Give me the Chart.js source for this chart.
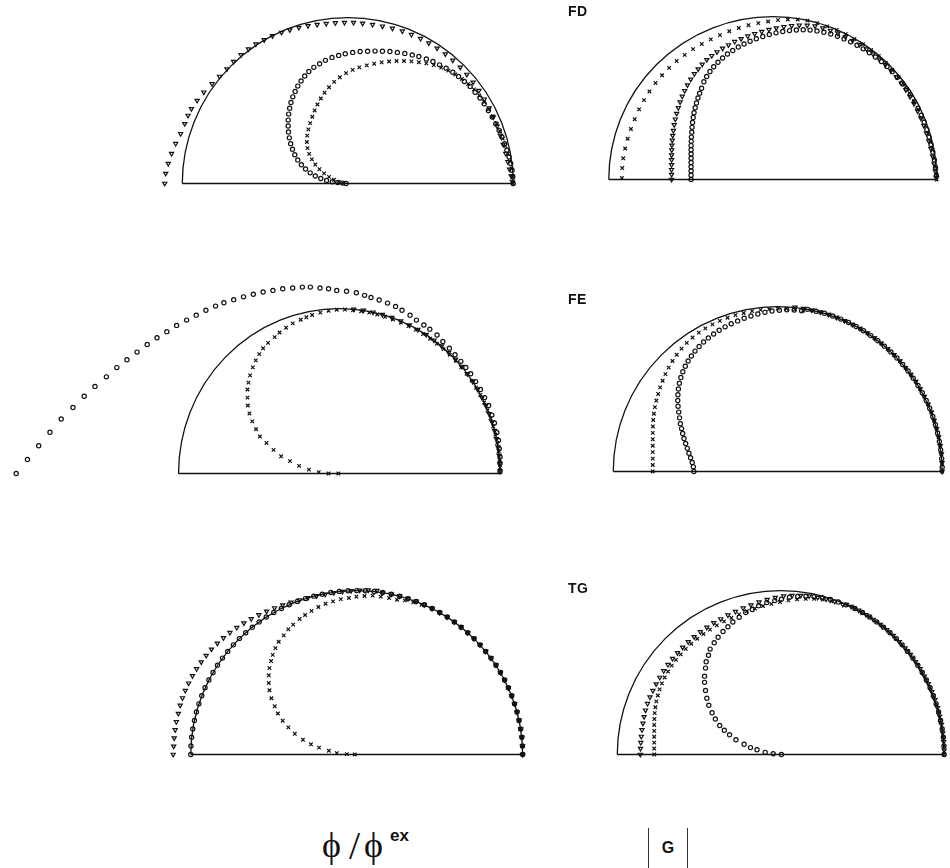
<!DOCTYPE html>
<html>
<head>
<meta charset="utf-8">
<script src="https://cdn.jsdelivr.net/npm/chart.js@4/dist/chart.umd.min.js"></script>
<style>
  html, body { margin: 0; padding: 0; background: #fff; }
  body { width: 950px; height: 868px; position: relative; overflow: hidden; font-family: "Liberation Sans", Arial, sans-serif; }
  canvas.panel { position: absolute; }
  .tag { position: absolute; font-weight: bold; font-size: 14px; color: #111; letter-spacing: 0.5px; }
  .phi { position: absolute; font-family: "Liberation Serif", serif; font-size: 36px; color: #111; }
  .ex { position: absolute; font-weight: bold; font-size: 17px; color: #111; }
  .gbox { position: absolute; border-left: 1px solid #333; border-right: 1px solid #333; text-align: center; font-weight: bold; font-size: 16px; color: #111; }
</style>
</head>
<body>
<script>
// Normalised coordinates: the unit half circle has its centre at (0,0) and radius 1.

// ---- FD ----
const fdL_tri = [[-1.106,0.0],[-1.1,0.06],[-1.085,0.12],[-1.065,0.18],[-1.04,0.24],[-1.01,0.3],[-0.985,0.36],[-0.965,0.41],[-0.945,0.45],[-0.91,0.5],[-0.87,0.55],[-0.82,0.6],[-0.775,0.645],[-0.73,0.69],[-0.69,0.735],[-0.645,0.775],[-0.6,0.81],[-0.555,0.84],[-0.505,0.866],[-0.455,0.89],[-0.4,0.91],[-0.35,0.925],[-0.295,0.94],[-0.24,0.95],[-0.185,0.958],[-0.13,0.964],[-0.075,0.968],[-0.02,0.97],[0.035,0.97],[0.09,0.965],[0.15,0.958],[0.21,0.948],[0.27,0.935],[0.33,0.918],[0.385,0.897],[0.44,0.873],[0.49,0.846],[0.54,0.815],[0.59,0.78],[0.635,0.742],[0.68,0.7],[0.72,0.657],[0.758,0.61],[0.793,0.56],[0.825,0.508],[0.855,0.455],[0.88,0.4],[0.903,0.345],[0.922,0.29],[0.94,0.235],[0.955,0.18],[0.968,0.13],[0.978,0.085],[0.988,0.045],[0.995,0.012]];
const fdL_circ = [[1.0,0.0],[0.998,0.04],[0.993,0.08],[0.985,0.12],[0.975,0.16],[0.962,0.2],[0.948,0.24],[0.932,0.28],[0.915,0.32],[0.895,0.36],[0.873,0.4],[0.85,0.44],[0.825,0.48],[0.8,0.515],[0.77,0.55],[0.74,0.585],[0.705,0.615],[0.67,0.645],[0.635,0.67],[0.595,0.695],[0.555,0.715],[0.515,0.735],[0.475,0.75],[0.43,0.765],[0.39,0.775],[0.345,0.784],[0.3,0.79],[0.255,0.795],[0.21,0.797],[0.165,0.798],[0.12,0.797],[0.075,0.795],[0.03,0.79],[-0.015,0.782],[-0.055,0.772],[-0.095,0.76],[-0.135,0.742],[-0.17,0.722],[-0.205,0.7],[-0.235,0.675],[-0.26,0.648],[-0.282,0.618],[-0.302,0.587],[-0.318,0.555],[-0.332,0.522],[-0.343,0.488],[-0.351,0.453],[-0.357,0.418],[-0.36,0.382],[-0.36,0.346],[-0.358,0.31],[-0.353,0.275],[-0.345,0.24],[-0.334,0.206],[-0.32,0.173],[-0.302,0.142],[-0.28,0.113],[-0.255,0.087],[-0.227,0.064],[-0.196,0.045],[-0.163,0.03],[-0.128,0.018],[-0.093,0.01],[-0.06,0.005],[-0.03,0.002],[-0.01,0.0]];
const fdL_x = [[1.0,0.0],[0.997,0.045],[0.99,0.09],[0.98,0.135],[0.968,0.18],[0.953,0.225],[0.937,0.27],[0.92,0.315],[0.9,0.36],[0.877,0.405],[0.852,0.448],[0.825,0.49],[0.795,0.53],[0.763,0.567],[0.728,0.6],[0.69,0.63],[0.65,0.657],[0.608,0.68],[0.565,0.698],[0.52,0.713],[0.475,0.724],[0.43,0.731],[0.385,0.736],[0.34,0.738],[0.295,0.738],[0.25,0.735],[0.205,0.73],[0.16,0.722],[0.115,0.712],[0.07,0.7],[0.03,0.685],[-0.01,0.665],[-0.048,0.64],[-0.082,0.612],[-0.113,0.58],[-0.14,0.547],[-0.163,0.512],[-0.183,0.476],[-0.2,0.44],[-0.214,0.402],[-0.227,0.364],[-0.238,0.326],[-0.245,0.288],[-0.247,0.25],[-0.243,0.213],[-0.233,0.178],[-0.217,0.145],[-0.196,0.114],[-0.171,0.086],[-0.143,0.061],[-0.113,0.04],[-0.083,0.022],[-0.055,0.01],[-0.03,0.003]];

const fdR_x = [[-0.92,0.01],[-0.918,0.07],[-0.912,0.13],[-0.9,0.19],[-0.885,0.25],[-0.865,0.31],[-0.842,0.37],[-0.815,0.43],[-0.785,0.487],[-0.752,0.54],[-0.715,0.592],[-0.675,0.64],[-0.632,0.685],[-0.586,0.727],[-0.537,0.765],[-0.486,0.8],[-0.433,0.832],[-0.378,0.86],[-0.322,0.886],[-0.265,0.91],[-0.207,0.93],[-0.148,0.947],[-0.088,0.96],[-0.028,0.97],[0.032,0.978],[0.092,0.982],[0.152,0.982],[0.212,0.975],[0.272,0.96],[0.332,0.94],[0.39,0.918],[0.445,0.892],[0.498,0.862],[0.55,0.83],[0.6,0.795],[0.647,0.757],[0.69,0.716],[0.73,0.672],[0.768,0.627],[0.802,0.58],[0.833,0.53],[0.862,0.48],[0.888,0.43],[0.91,0.38],[0.93,0.33],[0.947,0.28],[0.962,0.23],[0.975,0.18],[0.985,0.13],[0.993,0.08],[0.998,0.035],[1.0,0.0]];
const fdR_tri = [[-0.617,0.0],[-0.617,0.03],[-0.617,0.06],[-0.617,0.09],[-0.617,0.12],[-0.617,0.15],[-0.616,0.18],[-0.615,0.21],[-0.613,0.24],[-0.61,0.27],[-0.606,0.3],[-0.601,0.335],[-0.594,0.37],[-0.586,0.405],[-0.576,0.44],[-0.565,0.475],[-0.552,0.51],[-0.537,0.545],[-0.52,0.58],[-0.5,0.615],[-0.478,0.648],[-0.455,0.678],[-0.43,0.707],[-0.402,0.735],[-0.372,0.76],[-0.34,0.783],[-0.306,0.805],[-0.27,0.826],[-0.232,0.846],[-0.193,0.864],[-0.152,0.88],[-0.11,0.895],[-0.067,0.908],[-0.023,0.92],[0.022,0.93],[0.068,0.938],[0.115,0.944],[0.162,0.947],[0.21,0.946],[0.258,0.942],[0.305,0.93],[0.352,0.915],[0.398,0.897],[0.443,0.876],[0.487,0.853],[0.53,0.828],[0.572,0.8],[0.612,0.77],[0.65,0.738],[0.687,0.704],[0.721,0.668],[0.754,0.63],[0.784,0.59],[0.812,0.55],[0.838,0.508],[0.862,0.465],[0.884,0.42],[0.904,0.375],[0.922,0.33],[0.938,0.283],[0.952,0.236],[0.964,0.19],[0.975,0.142],[0.984,0.095],[0.992,0.05],[0.998,0.01]];
const fdR_circ = [[-0.498,0.0],[-0.498,0.026],[-0.498,0.052],[-0.498,0.078],[-0.498,0.104],[-0.498,0.13],[-0.498,0.156],[-0.498,0.182],[-0.498,0.208],[-0.497,0.234],[-0.496,0.26],[-0.494,0.29],[-0.492,0.32],[-0.489,0.35],[-0.485,0.38],[-0.48,0.41],[-0.473,0.44],[-0.465,0.47],[-0.456,0.5],[-0.446,0.53],[-0.434,0.56],[-0.42,0.6],[-0.403,0.632],[-0.383,0.663],[-0.36,0.692],[-0.334,0.72],[-0.306,0.746],[-0.276,0.77],[-0.244,0.792],[-0.21,0.813],[-0.175,0.832],[-0.138,0.849],[-0.1,0.864],[-0.061,0.878],[-0.021,0.89],[0.02,0.9],[0.061,0.908],[0.102,0.914],[0.144,0.918],[0.186,0.919],[0.228,0.917],[0.27,0.912],[0.312,0.904],[0.354,0.893],[0.395,0.879],[0.435,0.863],[0.475,0.845],[0.514,0.824],[0.552,0.802],[0.59,0.778],[0.627,0.752],[0.663,0.724],[0.697,0.694],[0.729,0.662],[0.76,0.628],[0.789,0.593],[0.816,0.556],[0.841,0.518],[0.864,0.478],[0.886,0.437],[0.906,0.395],[0.924,0.351],[0.94,0.306],[0.954,0.26],[0.966,0.214],[0.977,0.167],[0.986,0.12],[0.993,0.072],[0.998,0.025]];

// ---- FE ----
const feL_circ = [[-2.01,0.0],[-1.94,0.085],[-1.87,0.168],[-1.8,0.25],[-1.73,0.33],[-1.657,0.4],[-1.587,0.468],[-1.52,0.528],[-1.449,0.586],[-1.384,0.642],[-1.321,0.69],[-1.258,0.736],[-1.195,0.782],[-1.134,0.823],[-1.073,0.86],[-1.012,0.898],[-0.95,0.93],[-0.89,0.96],[-0.83,0.99],[-0.77,1.015],[-0.718,1.035],[-0.657,1.054],[-0.596,1.071],[-0.535,1.087],[-0.474,1.1],[-0.413,1.11],[-0.352,1.12],[-0.29,1.125],[-0.23,1.13],[-0.18,1.13],[-0.12,1.125],[-0.067,1.12],[-0.016,1.11],[0.045,1.105],[0.106,1.096],[0.157,1.08],[0.197,1.067],[0.248,1.052],[0.3,1.033],[0.35,1.013],[0.39,0.99],[0.44,0.96],[0.48,0.93],[0.526,0.9],[0.563,0.875],[0.608,0.84],[0.644,0.8],[0.685,0.76],[0.72,0.72],[0.756,0.68],[0.787,0.643],[0.817,0.605],[0.848,0.557],[0.878,0.509],[0.904,0.46],[0.929,0.412],[0.949,0.354],[0.965,0.306],[0.98,0.249],[0.99,0.2],[0.995,0.15],[1.0,0.1],[1.0,0.06],[1.0,0.01]];
const feL_x = [[-0.006,0.0],[-0.067,0.0],[-0.128,0.008],[-0.189,0.023],[-0.25,0.046],[-0.307,0.075],[-0.362,0.104],[-0.409,0.143],[-0.453,0.185],[-0.494,0.224],[-0.518,0.268],[-0.541,0.316],[-0.559,0.364],[-0.569,0.412],[-0.571,0.46],[-0.571,0.509],[-0.565,0.551],[-0.555,0.595],[-0.538,0.643],[-0.52,0.686],[-0.498,0.724],[-0.474,0.759],[-0.443,0.792],[-0.402,0.827],[-0.372,0.855],[-0.331,0.884],[-0.29,0.91],[-0.24,0.932],[-0.205,0.947],[-0.169,0.961],[-0.118,0.975],[-0.067,0.987],[-0.016,0.993],[0.035,0.994],[0.085,0.99],[0.136,0.984],[0.186,0.975],[0.236,0.964],[0.285,0.95],[0.334,0.934],[0.382,0.915],[0.43,0.894],[0.476,0.871],[0.521,0.845],[0.565,0.817],[0.607,0.787],[0.648,0.754],[0.687,0.719],[0.724,0.683],[0.759,0.645],[0.792,0.605],[0.823,0.563],[0.851,0.52],[0.877,0.476],[0.901,0.43],[0.922,0.383],[0.941,0.335],[0.957,0.286],[0.971,0.236],[0.982,0.186],[0.991,0.136],[0.997,0.085],[1.0,0.035]];
const feL_tri = [[0.09,0.996],[0.15,0.989],[0.21,0.978],[0.268,0.963],[0.326,0.945],[0.382,0.924],[0.436,0.9],[0.489,0.872],[0.54,0.842],[0.589,0.808],[0.636,0.772],[0.68,0.733],[0.722,0.692],[0.761,0.649],[0.797,0.604],[0.83,0.557],[0.86,0.51],[0.887,0.461],[0.911,0.412],[0.932,0.362],[0.95,0.311],[0.965,0.26],[0.977,0.21],[0.987,0.16],[0.994,0.11],[0.998,0.06],[1.0,0.015]];

const feR_x = [[-0.76,0.0],[-0.76,0.039],[-0.76,0.078],[-0.76,0.117],[-0.76,0.156],[-0.76,0.195],[-0.76,0.234],[-0.759,0.273],[-0.757,0.312],[-0.753,0.35],[-0.747,0.39],[-0.738,0.43],[-0.727,0.47],[-0.715,0.51],[-0.7,0.55],[-0.683,0.59],[-0.663,0.63],[-0.64,0.67],[-0.614,0.708],[-0.585,0.745],[-0.553,0.78],[-0.518,0.812],[-0.48,0.842],[-0.44,0.868],[-0.397,0.892],[-0.352,0.913],[-0.305,0.932],[-0.257,0.948],[-0.207,0.961],[-0.156,0.972],[-0.104,0.98],[-0.052,0.985],[0.0,0.988],[0.052,0.987],[0.104,0.983],[0.155,0.976],[0.208,0.978],[0.259,0.966],[0.309,0.951],[0.358,0.934],[0.407,0.914],[0.454,0.891],[0.5,0.866],[0.545,0.839],[0.588,0.809],[0.629,0.777],[0.669,0.743],[0.707,0.707],[0.743,0.669],[0.777,0.629],[0.809,0.588],[0.839,0.545],[0.866,0.5],[0.891,0.454],[0.914,0.407],[0.934,0.358],[0.951,0.309],[0.966,0.259],[0.978,0.208],[0.988,0.156],[0.995,0.105],[0.999,0.052],[1.0,0.0]];
const feR_circ = [[-0.51,0.0],[-0.513,0.028],[-0.52,0.055],[-0.53,0.083],[-0.54,0.11],[-0.55,0.14],[-0.56,0.17],[-0.57,0.2],[-0.578,0.23],[-0.585,0.26],[-0.592,0.29],[-0.597,0.325],[-0.602,0.36],[-0.606,0.395],[-0.608,0.43],[-0.607,0.465],[-0.604,0.5],[-0.598,0.535],[-0.589,0.57],[-0.577,0.605],[-0.562,0.638],[-0.545,0.67],[-0.525,0.7],[-0.503,0.73],[-0.478,0.758],[-0.451,0.785],[-0.422,0.81],[-0.39,0.834],[-0.356,0.856],[-0.32,0.877],[-0.283,0.896],[-0.244,0.913],[-0.204,0.929],[-0.163,0.943],[-0.121,0.955],[-0.078,0.965],[-0.035,0.973],[0.01,0.978],[0.055,0.98],[0.1,0.979],[0.145,0.974],[0.182,0.983],[0.233,0.972],[0.284,0.959],[0.334,0.943],[0.383,0.924],[0.431,0.903],[0.477,0.879],[0.522,0.853],[0.566,0.824],[0.609,0.793],[0.649,0.76],[0.688,0.725],[0.725,0.688],[0.76,0.649],[0.793,0.609],[0.824,0.566],[0.853,0.522],[0.879,0.477],[0.903,0.431],[0.924,0.383],[0.943,0.334],[0.959,0.284],[0.972,0.233],[0.983,0.182],[0.991,0.131],[0.997,0.078],[1.0,0.026]];
const feR_tri = [[0.105,0.995],[0.156,0.988],[0.208,0.978],[0.259,0.966],[0.309,0.951],[0.358,0.934],[0.407,0.914],[0.454,0.891],[0.5,0.866],[0.545,0.839],[0.588,0.809],[0.629,0.777],[0.669,0.743],[0.707,0.707],[0.743,0.669],[0.777,0.629],[0.809,0.588],[0.839,0.545],[0.866,0.5],[0.891,0.454],[0.914,0.407],[0.934,0.358],[0.951,0.309],[0.966,0.259],[0.978,0.208],[0.988,0.156],[0.995,0.105],[0.999,0.052],[1.0,0.0]];

// ---- TG ----
const tgL_tri = [[-1.106,0.0],[-1.103,0.05],[-1.1,0.1],[-1.094,0.15],[-1.087,0.2],[-1.075,0.25],[-1.064,0.3],[-1.05,0.345],[-1.033,0.39],[-1.013,0.435],[-0.99,0.48],[-0.965,0.522],[-0.937,0.564],[-0.907,0.604],[-0.875,0.642],[-0.84,0.678],[-0.803,0.712],[-0.764,0.744],[-0.723,0.774],[-0.68,0.802],[-0.636,0.828],[-0.59,0.852],[-0.543,0.874],[-0.495,0.894],[-0.446,0.912],[-0.396,0.928],[-0.345,0.943],[-0.294,0.956],[-0.242,0.968],[-0.19,0.978],[-0.138,0.987],[-0.086,0.994],[-0.034,0.999],[0.018,1.002],[0.07,1.003],[0.122,1.0],[0.156,0.988],[0.208,0.978],[0.259,0.966],[0.309,0.951],[0.358,0.934],[0.407,0.914],[0.454,0.891],[0.5,0.866],[0.545,0.839],[0.588,0.809],[0.629,0.777],[0.669,0.743],[0.707,0.707],[0.743,0.669],[0.777,0.629],[0.809,0.588],[0.839,0.545],[0.866,0.5],[0.891,0.454],[0.914,0.407],[0.934,0.358],[0.951,0.309],[0.966,0.259],[0.978,0.208],[0.988,0.156],[0.995,0.105],[0.999,0.052],[1.0,0.0]];
const tgL_x = [[-0.012,0.0],[-0.06,0.002],[-0.12,0.008],[-0.168,0.023],[-0.227,0.042],[-0.276,0.062],[-0.324,0.09],[-0.373,0.126],[-0.412,0.165],[-0.446,0.206],[-0.475,0.25],[-0.494,0.294],[-0.514,0.343],[-0.526,0.392],[-0.53,0.436],[-0.53,0.483],[-0.526,0.527],[-0.516,0.57],[-0.506,0.608],[-0.49,0.649],[-0.47,0.688],[-0.44,0.727],[-0.412,0.763],[-0.383,0.792],[-0.344,0.827],[-0.311,0.851],[-0.272,0.876],[-0.231,0.9],[-0.188,0.92],[-0.143,0.934],[-0.096,0.948],[-0.047,0.955],[-0.002,0.963],[0.047,0.967],[0.096,0.969],[0.145,0.963],[0.195,0.955],[0.243,0.944],[0.29,0.94],[0.34,0.928],[0.39,0.913],[0.454,0.891],[0.5,0.866],[0.545,0.839],[0.588,0.809],[0.629,0.777],[0.669,0.743],[0.707,0.707],[0.743,0.669],[0.777,0.629],[0.809,0.588],[0.839,0.545],[0.866,0.5],[0.891,0.454],[0.914,0.407],[0.934,0.358],[0.951,0.309],[0.966,0.259],[0.978,0.208],[0.988,0.156],[0.995,0.105],[0.999,0.052],[1.0,0.0]];
const tgL_circ = [[-1.0,0.0],[-0.999,0.052],[-0.995,0.105],[-0.988,0.156],[-0.978,0.208],[-0.966,0.259],[-0.951,0.309],[-0.934,0.358],[-0.914,0.407],[-0.891,0.454],[-0.866,0.5],[-0.839,0.545],[-0.809,0.588],[-0.777,0.629],[-0.743,0.669],[-0.707,0.707],[-0.669,0.743],[-0.629,0.777],[-0.588,0.809],[-0.545,0.839],[-0.5,0.866],[-0.454,0.891],[-0.407,0.914],[-0.358,0.934],[-0.309,0.951],[-0.259,0.966],[-0.208,0.978],[-0.156,0.988],[-0.105,0.995],[-0.052,0.999],[0.0,1.0],[0.052,0.999],[0.105,0.995],[0.156,0.988],[0.208,0.978],[0.259,0.966],[0.309,0.951],[0.358,0.934],[0.407,0.914],[0.454,0.891],[0.5,0.866],[0.545,0.839],[0.588,0.809],[0.629,0.777],[0.669,0.743],[0.707,0.707],[0.743,0.669],[0.777,0.629],[0.809,0.588],[0.839,0.545],[0.866,0.5],[0.891,0.454],[0.914,0.407],[0.934,0.358],[0.951,0.309],[0.966,0.259],[0.978,0.208],[0.988,0.156],[0.995,0.105],[0.999,0.052],[1.0,0.0]];

const tgR_tri = [[-0.859,0.0],[-0.858,0.036],[-0.856,0.072],[-0.853,0.11],[-0.849,0.15],[-0.843,0.19],[-0.836,0.23],[-0.827,0.27],[-0.815,0.31],[-0.8,0.35],[-0.782,0.39],[-0.762,0.43],[-0.74,0.47],[-0.716,0.51],[-0.69,0.548],[-0.662,0.585],[-0.632,0.62],[-0.6,0.654],[-0.566,0.687],[-0.53,0.718],[-0.492,0.748],[-0.452,0.776],[-0.41,0.803],[-0.367,0.827],[-0.323,0.85],[-0.277,0.872],[-0.23,0.893],[-0.182,0.912],[-0.133,0.93],[-0.083,0.945],[-0.033,0.958],[0.018,0.966],[0.07,0.97],[0.122,0.97],[0.174,0.966],[0.226,0.958],[0.278,0.948],[0.33,0.934],[0.38,0.915],[0.431,0.903],[0.477,0.879],[0.522,0.853],[0.566,0.824],[0.609,0.793],[0.649,0.76],[0.688,0.725],[0.725,0.688],[0.76,0.649],[0.793,0.609],[0.824,0.566],[0.853,0.522],[0.879,0.477],[0.903,0.431],[0.924,0.383],[0.943,0.334],[0.959,0.284],[0.972,0.233],[0.983,0.182],[0.991,0.131],[0.997,0.078],[1.0,0.026]];
const tgR_x = [[-0.774,0.0],[-0.774,0.036],[-0.774,0.072],[-0.774,0.108],[-0.774,0.144],[-0.774,0.18],[-0.773,0.216],[-0.771,0.252],[-0.767,0.288],[-0.761,0.324],[-0.752,0.36],[-0.741,0.397],[-0.727,0.434],[-0.71,0.47],[-0.69,0.506],[-0.667,0.542],[-0.641,0.577],[-0.612,0.611],[-0.581,0.644],[-0.547,0.676],[-0.511,0.706],[-0.473,0.735],[-0.433,0.762],[-0.391,0.788],[-0.347,0.812],[-0.302,0.834],[-0.255,0.855],[-0.207,0.874],[-0.158,0.891],[-0.108,0.906],[-0.057,0.919],[-0.005,0.93],[0.047,0.94],[0.1,0.947],[0.153,0.95],[0.205,0.95],[0.257,0.945],[0.31,0.935],[0.407,0.914],[0.454,0.891],[0.5,0.866],[0.545,0.839],[0.588,0.809],[0.629,0.777],[0.669,0.743],[0.707,0.707],[0.743,0.669],[0.777,0.629],[0.809,0.588],[0.839,0.545],[0.866,0.5],[0.891,0.454],[0.914,0.407],[0.934,0.358],[0.951,0.309],[0.966,0.259],[0.978,0.208],[0.988,0.156],[0.995,0.105],[0.999,0.052],[1.0,0.0]];
const tgR_circ = [[0.004,0.0],[-0.046,0.004],[-0.095,0.013],[-0.145,0.029],[-0.185,0.042],[-0.224,0.062],[-0.274,0.09],[-0.313,0.12],[-0.345,0.148],[-0.373,0.177],[-0.4,0.216],[-0.42,0.255],[-0.44,0.3],[-0.452,0.343],[-0.46,0.39],[-0.466,0.44],[-0.466,0.478],[-0.46,0.527],[-0.456,0.566],[-0.442,0.605],[-0.432,0.643],[-0.407,0.682],[-0.383,0.715],[-0.353,0.75],[-0.323,0.779],[-0.293,0.808],[-0.254,0.837],[-0.214,0.866],[-0.174,0.885],[-0.135,0.908],[-0.085,0.927],[-0.036,0.939],[0.004,0.947],[0.054,0.959],[0.104,0.964],[0.154,0.966],[0.204,0.963],[0.254,0.957],[0.304,0.946],[0.353,0.931],[0.4,0.913],[0.454,0.891],[0.5,0.866],[0.545,0.839],[0.588,0.809],[0.629,0.777],[0.669,0.743],[0.707,0.707],[0.743,0.669],[0.777,0.629],[0.809,0.588],[0.839,0.545],[0.866,0.5],[0.891,0.454],[0.914,0.407],[0.934,0.358],[0.951,0.309],[0.966,0.259],[0.978,0.208],[0.988,0.156],[0.995,0.105],[0.999,0.052],[1.0,0.0]];

// Row labels and axis captions
const rowLabels = ['FD', 'FE', 'TG'];
const leftCaption = ['\u03D5', '/', '\u03D5', 'ex'];
const rightCaption = 'G';

// Panel placement on the page (centre x, baseline y, radii in px, left end of x range)
const layout = [
  { cx: 348, by: 188, rx: 170,   ry: 174, xmin: -1.2,  series: [[fdL_tri,'tri'],[fdL_circ,'circ'],[fdL_x,'x']] },
  { cx: 773, by: 184, rx: 168.5, ry: 171, xmin: -1.2,  series: [[fdR_x,'x'],[fdR_tri,'tri'],[fdR_circ,'circ']] },
  { cx: 341, by: 478, rx: 164,   ry: 173, xmin: -2.12, series: [[feL_circ,'circ'],[feL_x,'x'],[feL_tri,'tri']] },
  { cx: 778, by: 476, rx: 169,   ry: 173, xmin: -1.2,  series: [[feR_x,'x'],[feR_circ,'circ'],[feR_tri,'tri']] },
  { cx: 357, by: 759, rx: 170.5, ry: 172, xmin: -1.2,  series: [[tgL_tri,'tri'],[tgL_x,'x'],[tgL_circ,'circ']] },
  { cx: 781, by: 759, rx: 168, ry: 172,   xmin: -1.2,  series: [[tgR_tri,'tri'],[tgR_x,'x'],[tgR_circ,'circ']] }
];

const INK = '#111';
const markStyle = {
  circ: { pointStyle: 'circle',   pointRadius: 2.1, rotation: 0 },
  tri:  { pointStyle: 'triangle', pointRadius: 2.4, rotation: 180 },
  x:    { pointStyle: 'crossRot', pointRadius: 2.5, rotation: 0 }
};

// Unit half circle and its diameter, placed through the chart's own scales
const halfCircle = {
  id: 'halfCircle',
  beforeDatasetsDraw(chart) {
    const xs = chart.scales.x, ys = chart.scales.y, ctx = chart.ctx;
    const x0 = xs.getPixelForValue(0), y0 = ys.getPixelForValue(0);
    const rxp = xs.getPixelForValue(1) - x0;
    const ryp = y0 - ys.getPixelForValue(1);
    ctx.save();
    ctx.strokeStyle = '#111';
    ctx.lineWidth = 1.3;
    ctx.beginPath();
    ctx.ellipse(x0, y0, rxp, ryp, 0, Math.PI, 2 * Math.PI);
    ctx.stroke();
    ctx.beginPath();
    ctx.moveTo(xs.getPixelForValue(-1), y0);
    ctx.lineTo(xs.getPixelForValue(1), y0);
    ctx.lineWidth = 1.5;
    ctx.stroke();
    ctx.restore();
  }
};

const YMIN = -0.08, YMAX = 1.2, XMAX = 1.08;

layout.forEach(p => {
  const left = Math.round(p.cx + p.xmin * p.rx);
  const xmin = (left - p.cx) / p.rx;
  const width = Math.round((XMAX - xmin) * p.rx);
  const xmax = xmin + width / p.rx;
  const top = Math.round(p.by - YMAX * p.ry);
  const ymax = (p.by - top) / p.ry;
  const height = Math.round((ymax - YMIN) * p.ry);
  const ymin = ymax - height / p.ry;

  const cv = document.createElement('canvas');
  cv.className = 'panel';
  cv.width = width; cv.height = height;
  cv.style.left = left + 'px'; cv.style.top = top + 'px';
  cv.style.width = width + 'px'; cv.style.height = height + 'px';
  document.body.appendChild(cv);

  new Chart(cv, {
    type: 'scatter',
    data: {
      datasets: p.series.map(([pts, kind]) => ({
        data: pts.map(([x, y]) => ({ x, y })),
        showLine: false,
        borderColor: INK,
        backgroundColor: 'rgba(0,0,0,0)',
        borderWidth: 1.2,
        pointBorderWidth: 1.2,
        clip: false,
        ...markStyle[kind]
      }))
    },
    options: {
      responsive: false,
      animation: false,
      events: [],
      layout: { padding: 0 },
      scales: {
        x: { type: 'linear', min: xmin, max: xmax, display: false },
        y: { type: 'linear', min: ymin, max: ymax, display: false }
      },
      plugins: { legend: { display: false }, tooltip: { enabled: false } }
    },
    plugins: [halfCircle]
  });
});

// Text
function addText(cls, txt, left, top, extra) {
  const d = document.createElement('div');
  d.className = cls;
  d.textContent = txt;
  d.style.left = left + 'px';
  d.style.top = top + 'px';
  if (extra) Object.assign(d.style, extra);
  document.body.appendChild(d);
  return d;
}
addText('tag', rowLabels[0], 568, 3);
addText('tag', rowLabels[1], 568, 291);
addText('tag', rowLabels[2], 568, 580);

addText('phi', leftCaption[0], 322, 824);
addText('phi', leftCaption[1], 349, 822, { fontSize: '40px', fontWeight: '300' });
addText('phi', leftCaption[2], 364, 824);
addText('ex', leftCaption[3], 390, 826);

addText('gbox', rightCaption, 648, 828, { width: '38px', height: '40px', lineHeight: '40px' });
</script>
</body>
</html>
